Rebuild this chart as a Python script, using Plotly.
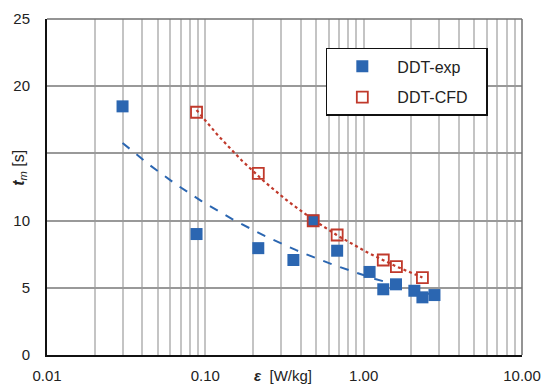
import numpy as np
import plotly.graph_objects as go

# Data
exp_eps = [0.030, 0.088, 0.216, 0.36, 0.48, 0.68, 1.09, 1.33, 1.60, 2.09, 2.35, 2.80]
exp_tm = [18.5, 9.0, 7.95, 7.07, 10.0, 7.76, 6.18, 4.89, 5.26, 4.78, 4.29, 4.46]

cfd_eps = [0.088, 0.216, 0.48, 0.68, 1.33, 1.61, 2.35]
cfd_tm = [18.06, 13.52, 9.99, 8.93, 7.07, 6.57, 5.75]

x_ticks = [0.01, 0.1, 1, 10]
x_labels = ["0.01", "0.10", "1.00", "10.00"]
y_ticks = [0, 5, 10, 15, 20, 25]
y_labels = ["0", "5", "10", "", "20", "25"]

BLUE = "#2b66b1"
RED = "#c0392b"
FONT = "Liberation Sans, Arial, sans-serif"
PAD = "\u00a0" * 3  # trailing space so the legend box is as wide as the reference


def power_fit(x, y):
    b, lna = np.polyfit(np.log(x), np.log(y), 1)
    xs = np.geomspace(min(x), max(x), 80)
    return xs, np.exp(lna) * xs ** b


fig = go.Figure()

fx, fy = power_fit(exp_eps, exp_tm)
fig.add_trace(go.Scatter(x=fx, y=fy, mode="lines", showlegend=False, hoverinfo="skip",
                         line=dict(color=BLUE, width=2, dash="dash")))
cx, cy = power_fit(cfd_eps, cfd_tm)
fig.add_trace(go.Scatter(x=cx, y=cy, mode="lines", showlegend=False, hoverinfo="skip",
                         line=dict(color=RED, width=2.2, dash="dot")))

fig.add_trace(go.Scatter(x=exp_eps, y=exp_tm, mode="markers", name="DDT-exp" + PAD,
                         legendgroup="a",
                         marker=dict(symbol="square", size=12, color=BLUE,
                                     line=dict(width=0))))
fig.add_trace(go.Scatter(x=cfd_eps, y=cfd_tm, mode="markers", name="DDT-CFD" + PAD,
                         legendgroup="b",
                         marker=dict(symbol="square-open", size=11, color=RED,
                                     line=dict(width=1.8))))

fig.update_layout(
    width=550, height=385,
    margin=dict(l=47, r=28, t=19, b=30, autoexpand=False),
    paper_bgcolor="white", plot_bgcolor="white",
    font=dict(family=FONT, size=15, color="#222222"),
    legend=dict(x=0.587, y=0.914, xanchor="left", yanchor="top",
                bgcolor="white", bordercolor="#111111", borderwidth=1.5,
                font=dict(size=16, color="#222222"),
                traceorder="grouped", tracegroupgap=7, itemwidth=60),
    xaxis=dict(type="log", range=[-2, 1], tickvals=x_ticks, ticktext=x_labels,
               showgrid=True, gridcolor="#c4c4c4", gridwidth=1.5,
               minor=dict(showgrid=True, gridcolor="#c4c4c4", gridwidth=1.5, dtick="D1"),
               showline=True, linecolor="#111111", linewidth=2,
               ticks="", ticklen=0, zeroline=False, automargin=False,
               ticklabelstandoff=6, tickfont=dict(size=15)),
    yaxis=dict(range=[0, 25], tickvals=y_ticks, ticktext=y_labels,
               showgrid=True, gridcolor="#999999", gridwidth=1.5,
               showline=True, linecolor="#111111", linewidth=2,
               ticks="", zeroline=False, ticklabelstandoff=12, automargin=False,
               tickfont=dict(size=15)),
)

# top and right frame lines (grey)
fig.add_shape(type="line", xref="paper", yref="paper", x0=0, x1=1, y0=1, y1=1,
              line=dict(color="#707070", width=1.5))
fig.add_shape(type="line", xref="paper", yref="paper", x0=1, x1=1, y0=0, y1=1,
              line=dict(color="#707070", width=1.5))

fig.add_annotation(xref="paper", yref="paper", x=0.497, y=-0.061, xanchor="center",
                   yanchor="middle", showarrow=False,
                   text="<b><i>ε</i></b>  [W/kg]", font=dict(size=15, color="#222222"))
fig.add_annotation(xref="paper", yref="paper", x=-0.057, y=0.557, xanchor="center",
                   yanchor="middle", showarrow=False, textangle=-90,
                   text="<b><i>t</i></b><sub><i>m</i></sub> [s]", font=dict(size=16, color="#222222"))

fig.write_html("out.html", config={"displayModeBar": False},
               post_script="document.body.style.margin='0';")
